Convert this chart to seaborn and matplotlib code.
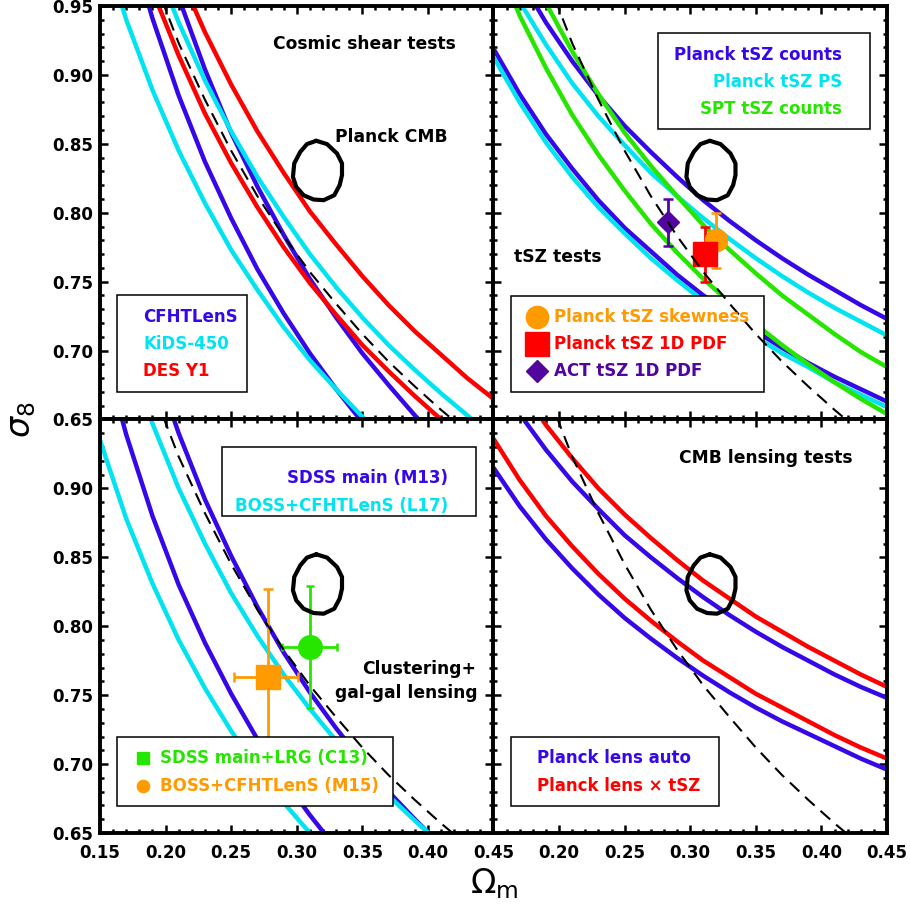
import numpy as np
import pandas as pd
import matplotlib
matplotlib.use("Agg")
import matplotlib.pyplot as plt
from matplotlib.patches import Rectangle
from matplotlib.ticker import MultipleLocator
import seaborn as sns

# ---------------- data ----------------
OMEGA_M = [0.15, 0.17, 0.19, 0.21, 0.23, 0.25, 0.27, 0.29, 0.31, 0.33,
           0.35, 0.37, 0.39, 0.41, 0.43, 0.45]

# panel 1: cosmic shear
cfhtlens_lo = [1.086, 1.006, 0.941, 0.885, 0.837, 0.796, 0.759, 0.727, 0.698, 0.672, 0.648, 0.627, 0.607, 0.589, 0.572, 0.556]
cfhtlens_hi = [1.175, 1.088, 1.016, 0.956, 0.904, 0.858, 0.819, 0.784, 0.752, 0.724, 0.698, 0.675, 0.653, 0.633, 0.615, 0.598]
kids_lo = [1.002, 0.940, 0.889, 0.845, 0.807, 0.773, 0.744, 0.717, 0.693, 0.672, 0.652, 0.634, 0.617, 0.602, 0.588, 0.574]
kids_hi = [1.112, 1.044, 0.986, 0.938, 0.896, 0.859, 0.826, 0.797, 0.770, 0.746, 0.724, 0.704, 0.686, 0.669, 0.653, 0.638]
des_lo = [1.084, 1.017, 0.961, 0.914, 0.872, 0.836, 0.804, 0.775, 0.749, 0.726, 0.704, 0.685, 0.667, 0.650, 0.634, 0.620]
des_hi = [1.153, 1.083, 1.024, 0.974, 0.931, 0.893, 0.859, 0.829, 0.801, 0.777, 0.754, 0.733, 0.714, 0.697, 0.680, 0.665]
# dashed reference curve (all panels)
dashed_ref = [1.096, 1.028, 0.972, 0.923, 0.882, 0.845, 0.812, 0.783, 0.757, 0.734, 0.712, 0.692, 0.674, 0.657, 0.641, 0.626]

# panel 2: tSZ
tsz_counts_lo = [0.919, 0.886, 0.857, 0.832, 0.809, 0.789, 0.772, 0.755, 0.740, 0.727, 0.714, 0.702, 0.691, 0.681, 0.672, 0.663]
tsz_counts_hi = [1.007, 0.970, 0.938, 0.910, 0.885, 0.863, 0.844, 0.826, 0.809, 0.794, 0.780, 0.767, 0.755, 0.744, 0.733, 0.723]
tsz_ps_lo = [0.913, 0.880, 0.851, 0.826, 0.804, 0.785, 0.767, 0.751, 0.736, 0.723, 0.710, 0.698, 0.688, 0.677, 0.668, 0.659]
tsz_ps_hi = [0.990, 0.953, 0.922, 0.894, 0.870, 0.849, 0.829, 0.812, 0.796, 0.781, 0.767, 0.754, 0.742, 0.731, 0.721, 0.711]
spt_lo = [0.989, 0.943, 0.905, 0.871, 0.842, 0.816, 0.792, 0.771, 0.752, 0.735, 0.719, 0.704, 0.690, 0.677, 0.665, 0.654]
spt_hi = [1.041, 0.993, 0.952, 0.917, 0.886, 0.858, 0.834, 0.812, 0.791, 0.773, 0.756, 0.740, 0.726, 0.712, 0.699, 0.688]
tsz_pts_om = [0.320, 0.311, 0.283]          # skewness, 1D PDF, ACT 1D PDF
tsz_pts_s8 = [0.780, 0.770, 0.793]
tsz_pts_err = [0.020, 0.020, 0.017]

# panel 3: clustering + galaxy-galaxy lensing
sdss_main_lo = [1.009, 0.939, 0.880, 0.830, 0.788, 0.751, 0.718, 0.689, 0.663, 0.639, 0.618, 0.598, 0.580, 0.564, 0.548, 0.534]
sdss_main_hi = [1.139, 1.060, 0.995, 0.940, 0.892, 0.851, 0.814, 0.781, 0.752, 0.726, 0.702, 0.680, 0.660, 0.641, 0.624, 0.608]
boss_cfht_lo = [0.935, 0.878, 0.831, 0.790, 0.755, 0.724, 0.697, 0.672, 0.650, 0.630, 0.612, 0.595, 0.580, 0.565, 0.552, 0.540]
boss_cfht_hi = [1.067, 1.001, 0.947, 0.900, 0.860, 0.824, 0.793, 0.765, 0.740, 0.717, 0.696, 0.677, 0.659, 0.642, 0.627, 0.613]
# C13 (orange square) and M15 (green circle)
c13_om, c13_om_lo, c13_om_hi = 0.278, 0.026, 0.023
c13_s8, c13_s8_lo, c13_s8_hi = 0.763, 0.049, 0.064
m15_om, m15_om_err = 0.310, 0.021
m15_s8, m15_s8_err = 0.785, 0.044

# panel 4: CMB lensing
lens_auto_lo = [0.915, 0.887, 0.863, 0.842, 0.823, 0.806, 0.791, 0.777, 0.764, 0.752, 0.741, 0.731, 0.722, 0.713, 0.704, 0.696]
lens_auto_hi = [0.985, 0.954, 0.928, 0.905, 0.885, 0.866, 0.850, 0.835, 0.821, 0.808, 0.796, 0.785, 0.775, 0.765, 0.756, 0.748]
lens_tsz_lo = [0.936, 0.906, 0.880, 0.858, 0.838, 0.820, 0.804, 0.789, 0.775, 0.763, 0.751, 0.741, 0.731, 0.721, 0.712, 0.704]
lens_tsz_hi = [1.006, 0.974, 0.946, 0.922, 0.900, 0.881, 0.864, 0.848, 0.833, 0.820, 0.807, 0.796, 0.785, 0.775, 0.765, 0.756]

# Planck CMB contour (same in all panels)
cmb_om = [0.3149, 0.3231, 0.3307, 0.3345, 0.3345, 0.3327, 0.3286, 0.3205, 0.3128,
          0.3052, 0.2996, 0.2971, 0.2981, 0.3027, 0.3078, 0.3149]
cmb_s8 = [0.8522, 0.8498, 0.8430, 0.8358, 0.8273, 0.8200, 0.8127, 0.8091, 0.8096,
          0.8127, 0.8188, 0.8260, 0.8358, 0.8442, 0.8498, 0.8522]

XTICKS = [0.15, 0.20, 0.25, 0.30, 0.35, 0.40, 0.45]
YTICKS = [0.65, 0.70, 0.75, 0.80, 0.85, 0.90, 0.95]
XTICK_LABELS = ["0.15", "0.20", "0.25", "0.30", "0.35", "0.40", "0.45"]
YTICK_LABELS = ["0.65", "0.70", "0.75", "0.80", "0.85", "0.90", "0.95"]

# ---------------- style ----------------
BLUE = "#3608e8"
CYAN = "#00e4f2"
RED = "#ff0000"
GREEN = "#26e600"
ORANGE = "#ff9a00"
PURPLE = "#52049e"

sns.set_theme(style="white")
plt.rcParams["font.family"] = ["DejaVu Sans"]
plt.rcParams["mathtext.fontset"] = "dejavusans"
for key in ("text.color", "axes.labelcolor", "xtick.color", "ytick.color",
            "xtick.labelcolor", "ytick.labelcolor", "axes.edgecolor"):
    plt.rcParams[key] = "black"

fig, axes = plt.subplots(2, 2, figsize=(9.1, 9.07), dpi=100)
fig.subplots_adjust(left=0.1099, right=0.9747, top=0.9934, bottom=0.0816,
                    wspace=0, hspace=0)

LW = 3.2


def curve(ax, ys, color, z=2):
    sns.lineplot(x=OMEGA_M, y=ys, ax=ax, color=color, lw=LW, sort=False,
                 estimator=None, zorder=z, solid_joinstyle="round",
                 solid_capstyle="butt")


def common(ax):
    sns.lineplot(x=OMEGA_M, y=dashed_ref, ax=ax, color="black", lw=1.5,
                 sort=False, estimator=None, zorder=4,
                 linestyle=(0, (6.2, 3.8)))
    sns.lineplot(x=cmb_om, y=cmb_s8, ax=ax, color="black", lw=3.0,
                 sort=False, estimator=None, zorder=4,
                 solid_joinstyle="round")


def box(ax, x0, y0, x1, y1):
    ax.add_patch(Rectangle((x0, y0), x1 - x0, y1 - y0, transform=ax.transAxes,
                           facecolor="white", edgecolor="black", lw=1.1,
                           zorder=3))


def txt(ax, x, y, s, color="black", ha="left", size=12):
    ax.text(x, y, s, transform=ax.transAxes, color=color, ha=ha, va="center",
            fontsize=size, fontweight="bold", zorder=6)


EB = dict(elinewidth=2.0, capthick=1.8, zorder=2.5)

ax1, ax2, ax3, ax4 = axes[0, 0], axes[0, 1], axes[1, 0], axes[1, 1]

# panel 1
for ys, c in [(cfhtlens_lo, BLUE), (cfhtlens_hi, BLUE), (kids_lo, CYAN),
              (kids_hi, CYAN), (des_lo, RED), (des_hi, RED)]:
    curve(ax1, ys, c)
common(ax1)
txt(ax1, 0.672, 0.907, "Cosmic shear tests", ha="center", size=12.3)
txt(ax1, 0.740, 0.683, "Planck CMB", ha="center", size=12.3)
box(ax1, 0.0424, 0.0672, 0.3728, 0.3011)
txt(ax1, 0.110, 0.2486, "CFHTLenS", BLUE)
txt(ax1, 0.110, 0.1826, "KiDS-450", CYAN)
txt(ax1, 0.110, 0.1172, "DES Y1", RED)

# panel 2
for ys, c in [(tsz_counts_lo, BLUE), (tsz_counts_hi, BLUE), (tsz_ps_lo, CYAN),
              (tsz_ps_hi, CYAN), (spt_lo, GREEN), (spt_hi, GREEN)]:
    curve(ax2, ys, c)
common(ax2)
for (om, s8, e, c, m, ms) in zip(tsz_pts_om, tsz_pts_s8, tsz_pts_err,
                                 [ORANGE, RED, PURPLE], ["o", "s", "D"],
                                 [16, 17, 10.8]):
    ax2.errorbar(om, s8, yerr=e, fmt=m, color=c, ms=ms, capsize=3.6, **EB)
box(ax2, 0.4188, 0.7018, 0.9568, 0.9354)
txt(ax2, 0.8864, 0.8815, "Planck tSZ counts", BLUE, ha="right")
txt(ax2, 0.8864, 0.8169, "Planck tSZ PS", CYAN, ha="right")
txt(ax2, 0.8864, 0.7502, "SPT tSZ counts", GREEN, ha="right")
txt(ax2, 0.052, 0.3937, "tSZ tests", size=12.3)
box(ax2, 0.0437, 0.0672, 0.6882, 0.2994)
for yy, c, m, ms in [(0.2486, ORANGE, "o", 16), (0.1826, RED, "s", 17),
                     (0.1172, PURPLE, "D", 11.3)]:
    ax2.plot([0.1098], [yy], marker=m, color=c, ms=ms, ls="none",
             transform=ax2.transAxes, zorder=6)
txt(ax2, 0.1537, 0.2486, "Planck tSZ skewness", ORANGE)
txt(ax2, 0.1537, 0.1826, "Planck tSZ 1D PDF", RED)
txt(ax2, 0.1537, 0.1172, "ACT tSZ 1D PDF", PURPLE)

# panel 3
for ys, c in [(sdss_main_lo, BLUE), (sdss_main_hi, BLUE),
              (boss_cfht_lo, CYAN), (boss_cfht_hi, CYAN)]:
    curve(ax3, ys, c)
common(ax3)
ax3.errorbar(m15_om, m15_s8, xerr=m15_om_err, yerr=m15_s8_err, fmt="o",
             color=GREEN, ms=17, capsize=3.2, **EB)
ax3.errorbar(c13_om, c13_s8, xerr=[[c13_om_lo], [c13_om_hi]],
             yerr=[[c13_s8_lo], [c13_s8_hi]], fmt="s", color=ORANGE, ms=17,
             capsize=3.6, **EB)
box(ax3, 0.3093, 0.7673, 0.9555, 0.9328)
txt(ax3, 0.885, 0.8578, "SDSS main (M13)", BLUE, ha="right")
txt(ax3, 0.885, 0.7908, "BOSS+CFHTLenS (L17)", CYAN, ha="right")
txt(ax3, 0.9555, 0.3959, "Clustering+", ha="right", size=12.3)
txt(ax3, 0.9588, 0.3393, "gal-gal lensing", ha="right", size=12.3)
box(ax3, 0.044, 0.0653, 0.7454, 0.2329)
ax3.plot([0.110], [0.1807], marker="s", color=GREEN, ms=8.4, ls="none",
         transform=ax3.transAxes, zorder=6)
ax3.plot([0.110], [0.1144], marker="o", color=ORANGE, ms=8.8, ls="none",
         transform=ax3.transAxes, zorder=6)
txt(ax3, 0.1525, 0.1807, "SDSS main+LRG (C13)", GREEN)
txt(ax3, 0.1525, 0.1144, "BOSS+CFHTLenS (M15)", ORANGE)

# panel 4
for ys, c in [(lens_auto_lo, BLUE), (lens_auto_hi, BLUE),
              (lens_tsz_lo, RED), (lens_tsz_hi, RED)]:
    curve(ax4, ys, c)
common(ax4)
txt(ax4, 0.692, 0.906, "CMB lensing tests", ha="center", size=12.3)
box(ax4, 0.0437, 0.0653, 0.5738, 0.2329)
txt(ax4, 0.1098, 0.1807, "Planck lens auto", BLUE)
txt(ax4, 0.1098, 0.1144, "Planck lens \u00d7 tSZ", RED)

# axes cosmetics
for ax in [ax1, ax2, ax3, ax4]:
    ax.set_xlim(0.15, 0.45)
    ax.set_ylim(0.65, 0.95)
    ax.set_xlabel("")
    ax.set_ylabel("")
    ax.set_xticks(XTICKS)
    ax.set_yticks(YTICKS)
    ax.xaxis.set_minor_locator(MultipleLocator(0.01))
    ax.yaxis.set_minor_locator(MultipleLocator(0.01))
    ax.tick_params(which="major", direction="in", length=6, width=1.8,
                   top=True, right=True, bottom=True, left=True,
                   labelsize=12, color="black", labelcolor="black", pad=8)
    ax.tick_params(which="minor", direction="in", length=3, width=1.8,
                   top=True, right=True, bottom=True, left=True, color="black")
    for sp in ax.spines.values():
        sp.set_linewidth(2.8)
        sp.set_color("black")
    ax.set_facecolor("white")

ax1.set_yticklabels(YTICK_LABELS, fontweight="bold", color="black")
ax3.set_yticklabels(YTICK_LABELS[:-1] + [""], fontweight="bold", color="black")
ax3.set_xticklabels(XTICK_LABELS, fontweight="bold", color="black")
ax4.set_xticklabels([""] + XTICK_LABELS[1:], fontweight="bold", color="black")
for ax in (ax1, ax2):
    ax.tick_params(labelbottom=False)
for ax in (ax2, ax4):
    ax.tick_params(labelleft=False)
for ax in (ax1, ax3):
    ax.tick_params(axis="y", pad=5)

fig.text(22 / 910, 1 - 420 / 907, r"$\sigma_8$", rotation=90, fontsize=24,
         ha="center", va="center", fontweight="normal", color="black")
fig.text(494 / 910, 1 - 884 / 907, r"$\Omega_{\rm m}$", fontsize=24,
         ha="center", va="center", fontweight="normal", color="black")

fig.savefig("out.png", dpi=100, facecolor="white")
